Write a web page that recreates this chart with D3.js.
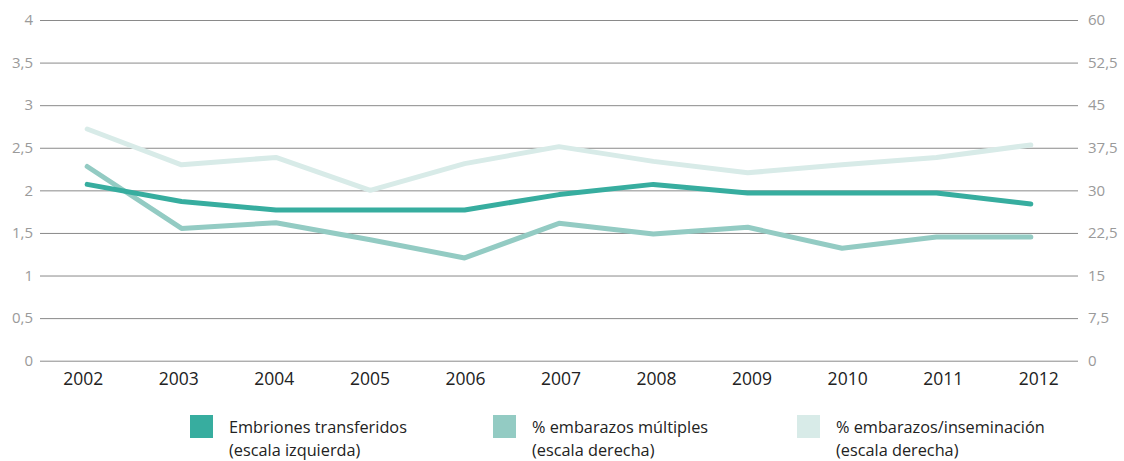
<!DOCTYPE html>
<html><head><meta charset="utf-8">
<script src="https://cdn.jsdelivr.net/npm/d3@7"></script>
<style>
html,body{margin:0;padding:0;background:#fff;}
svg{display:block;font-family:"Open Sans",sans-serif;}
</style></head>
<body><svg id="c" width="1124" height="461"></svg>
<script>
const years = ["2002","2003","2004","2005","2006","2007","2008","2009","2010","2011","2012"];
const embriones = [2.07,1.87,1.77,1.77,1.77,1.95,2.07,1.97,1.97,1.97,1.84];
const multiples = [34.2,23.3,24.3,21.3,18.1,24.2,22.3,23.5,19.8,21.8,21.8];
const inseminacion = [40.8,34.5,35.8,30.0,34.7,37.7,35.1,33.1,34.5,35.8,38.0];
const leftTicks = [0,0.5,1,1.5,2,2.5,3,3.5,4];
const rightTicks = [0,7.5,15,22.5,30,37.5,45,52.5,60];
const seriesNames = [["Embriones transferidos","(escala izquierda)"],["% embarazos múltiples","(escala derecha)"],["% embarazos/inseminación","(escala derecha)"]];
const colors = ["#37ad9f","#93cbc3","#d8ebe8"];

const svg = d3.select("#c");
const x0 = 40, x1 = 1078, yTop = 20, yBot = 360.7;
const x = d3.scalePoint().domain(years).range([x0, x1]).padding(0.5);
const xLab = d3.scalePoint().domain(years).range([35, 1086]).padding(0.5);
const yL = d3.scaleLinear().domain([0,4]).range([yBot, yTop]);
const yR = d3.scaleLinear().domain([0,60]).range([yBot, yTop]);
const fmt = d => String(d).replace(".", ",");

// gridlines
const gl = svg.append("g").attr("transform", `translate(${x0},0)`)
  .call(d3.axisLeft(yL).tickValues(leftTicks).tickSize(-(x1 - x0)).tickFormat(fmt).tickPadding(7));
gl.select(".domain").remove();
gl.selectAll(".tick line").attr("stroke", "#8a8a8a").attr("stroke-width", 1);
gl.selectAll(".tick text").attr("fill", "#9a9a9a").style("font-size", "15px").style("font-family", "'Open Sans',sans-serif");

const gr = svg.append("g").attr("transform", `translate(${x1},0)`)
  .call(d3.axisRight(yR).tickValues(rightTicks).tickSize(0).tickFormat(fmt).tickPadding(10));
gr.select(".domain").remove();
gr.selectAll(".tick text").attr("fill", "#9a9a9a").style("font-size", "15px").style("font-family", "'Open Sans',sans-serif");

// x axis
const gx = svg.append("g").attr("transform", `translate(0,${yBot})`)
  .call(d3.axisBottom(xLab).tickSize(0).tickPadding(12));
gx.select(".domain").remove();
gx.selectAll(".tick text").attr("fill", "#222").style("font-size", "17.5px").style("font-family", "'Open Sans',sans-serif");

// lines (draw light first)
const data = [
  {vals: inseminacion, y: yR, c: colors[2]},
  {vals: multiples, y: yR, c: colors[1]},
  {vals: embriones, y: yL, c: colors[0]}
];
data.forEach(s => {
  const line = d3.line().x((d,i) => x(years[i])).y(d => s.y(d));
  svg.append("path").datum(s.vals).attr("d", line)
    .attr("fill", "none").attr("stroke", s.c).attr("stroke-width", 5)
    .attr("stroke-linecap", "round").attr("stroke-linejoin", "round");
});

// legend
const legX = [190, 493, 797];
seriesNames.forEach((n, i) => {
  const g = svg.append("g").attr("transform", `translate(${legX[i]},415)`);
  g.append("rect").attr("width", 23).attr("height", 23).attr("fill", colors[i]);
  const t = g.append("text").attr("x", 39).attr("y", 18).attr("fill", "#222").style("font-size", "16.3px");
  t.append("tspan").attr("x", 39).text(n[0]);
  t.append("tspan").attr("x", 39).attr("dy", 22.7).text(n[1]);
});
</script></body></html>
